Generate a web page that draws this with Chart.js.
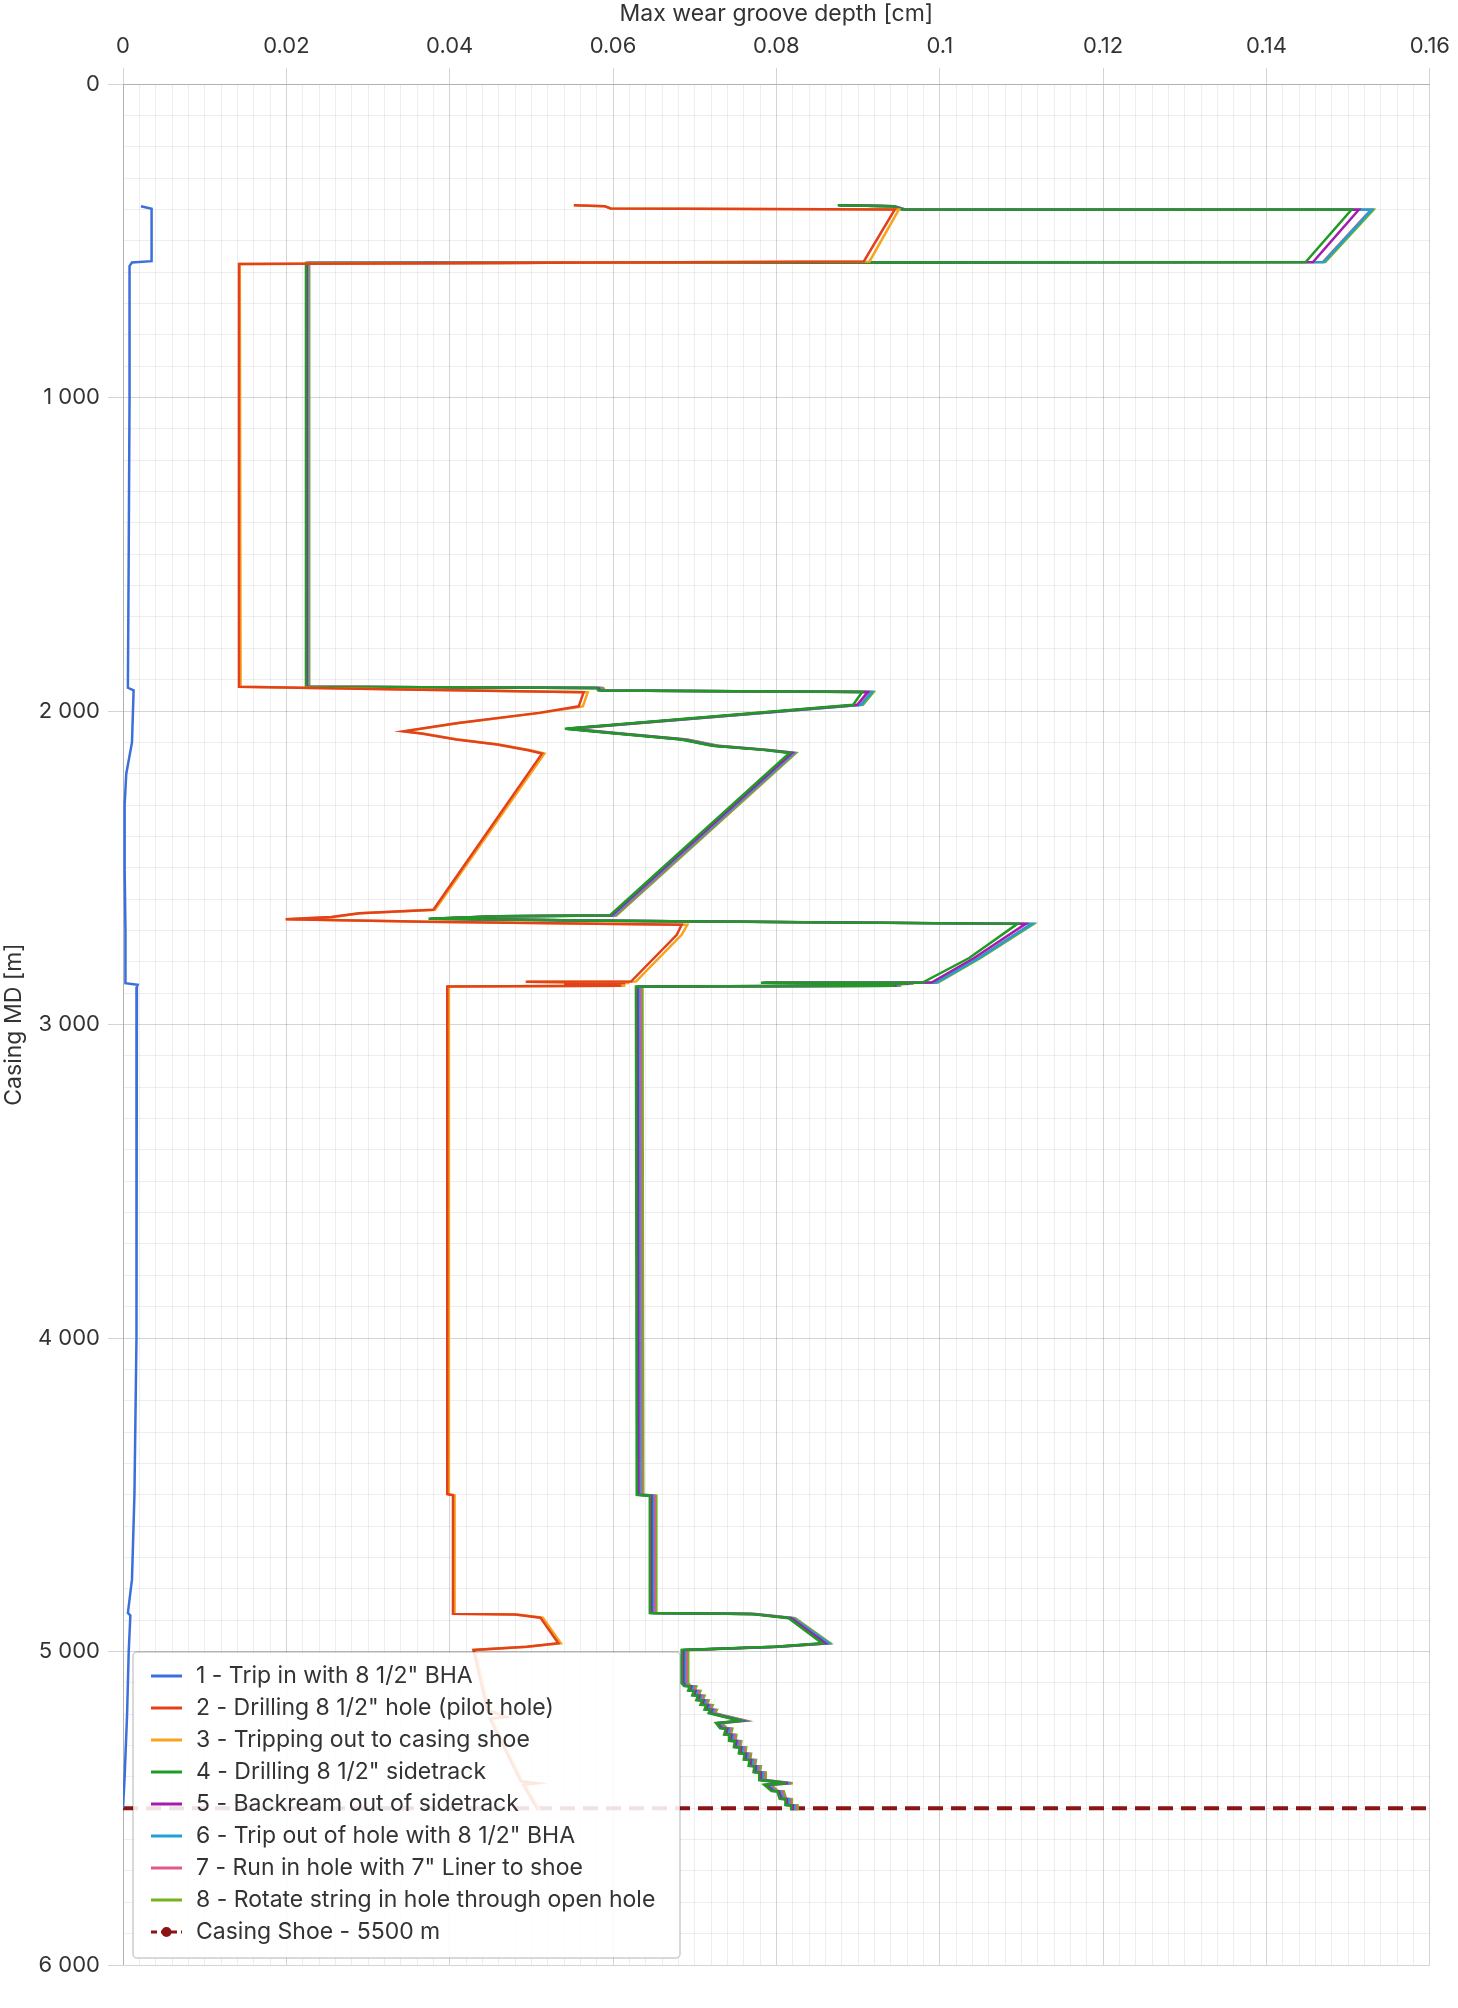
<!DOCTYPE html>
<html>
<head>
<meta charset="utf-8">
<title>Casing wear</title>
<script src="https://cdn.jsdelivr.net/npm/chart.js@4.4.1/dist/chart.umd.min.js"></script>
<style>
  html, body { margin: 0; padding: 0; background: #fff; }
  #wrap { width: 1458px; height: 2008px; position: relative; }
</style>
</head>
<body>
<div id="wrap"><canvas id="wearChart"></canvas></div>
<script>
// depth [m] / max wear groove depth [cm]
const tripInDepth = [390, 398, 565, 569, 581, 1000, 1500, 1926, 1934, 2100, 2200, 2300, 2500, 2700, 2868, 2873, 2880, 3500, 4000, 4500, 4770, 4877, 4885, 5000, 5200, 5400, 5500];
const tripInWear = [0.0022, 0.0035, 0.0035, 0.0011, 0.0008, 0.0008, 0.0007, 0.0006, 0.0013, 0.0011, 0.0004, 0.0002, 0.0002, 0.0003, 0.0003, 0.0018, 0.0017, 0.0017, 0.0016, 0.0014, 0.0011, 0.0006, 0.0009, 0.0007, 0.0005, 0.0002, 0.0000];

// pilot hole runs (series 2 and 3)
const pilotDepth = [387, 390, 397, 400, 566, 574, 1923, 1932, 1940, 1985, 2006, 2038, 2065, 2072, 2091, 2107, 2125, 2136, 2634, 2645, 2657, 2664, 2672, 2682, 2714, 2863, 2864, 2868, 2872, 2876, 2879, 4498, 4502, 4880, 4882, 4892, 4974, 4985, 4995, 5187, 5209, 5214, 5414, 5420, 5425, 5506];
const drillingWear = [0.0552, 0.0590, 0.0597, 0.0945, 0.0907, 0.0142, 0.0142, 0.0364, 0.0564, 0.0558, 0.0509, 0.0410, 0.0343, 0.0365, 0.0408, 0.0458, 0.0496, 0.0513, 0.0380, 0.0289, 0.0255, 0.0199, 0.0371, 0.0684, 0.0678, 0.0622, 0.0493, 0.0615, 0.0540, 0.0610, 0.0397, 0.0397, 0.0404, 0.0404, 0.0480, 0.0511, 0.0533, 0.0494, 0.0429, 0.0446, 0.0469, 0.0449, 0.0487, 0.0506, 0.0490, 0.0508];
const trippingWear = [0.0552, 0.0590, 0.0597, 0.0950, 0.0914, 0.0143, 0.0144, 0.0366, 0.0569, 0.0563, 0.0512, 0.0412, 0.0345, 0.0367, 0.0410, 0.0460, 0.0499, 0.0516, 0.0382, 0.0291, 0.0257, 0.0200, 0.0373, 0.0691, 0.0684, 0.0628, 0.0495, 0.0620, 0.0545, 0.0615, 0.0399, 0.0399, 0.0406, 0.0406, 0.0482, 0.0514, 0.0536, 0.0496, 0.0431, 0.0448, 0.0471, 0.0451, 0.0489, 0.0508, 0.0492, 0.0510];

// sidetrack runs (series 4 to 8)
const sideDepth = [387, 390, 400, 401, 568, 571, 1923, 1927, 1935, 1939,
  1980, 2057, 2070, 2091, 2111, 2124, 2134, 2652, 2655, 2663,
  2669, 2679, 2788, 2866, 2867, 2870, 2873, 2876, 2879, 4500,
  4503, 4877, 4880, 4894, 4974, 4985, 4995,
  5101, 5110, 5111, 5125, 5126, 5140, 5141, 5155, 5156, 5170, 5171, 5185, 5186, 5197,
  5221, 5228, 5245, 5246, 5265, 5266, 5285, 5286, 5305, 5306, 5325, 5326, 5345, 5346,
  5365, 5366, 5385, 5386, 5410, 5420, 5425, 5445, 5446, 5470, 5471, 5490, 5491, 5506];
const sidetrackWear = [0.0875, 0.0942, 0.0953, 0.1504, 0.1448, 0.0224, 0.0224, 0.0580, 0.0582, 0.0905,
  0.0894, 0.0541, 0.0596, 0.0683, 0.0721, 0.0783, 0.0816, 0.0596, 0.0456, 0.0374,
  0.0589, 0.1095, 0.1036, 0.0979, 0.0781, 0.0960, 0.0850, 0.0945, 0.0628, 0.0629,
  0.0645, 0.0645, 0.0767, 0.0815, 0.0856, 0.0797, 0.0684,
  0.0684, 0.0687, 0.0694, 0.0692, 0.0699, 0.0697, 0.0704, 0.0702, 0.0709, 0.0707, 0.0714, 0.0712, 0.0719, 0.0717,
  0.0755, 0.0726, 0.0731, 0.0738, 0.0736, 0.0743, 0.0742, 0.0749, 0.0748, 0.0755, 0.0754, 0.0761, 0.0760, 0.0767,
  0.0766, 0.0773, 0.0772, 0.0779, 0.0779, 0.0812, 0.0785, 0.0794, 0.0801, 0.0804, 0.0811, 0.0811, 0.0818, 0.0818];
const backreamWear = [0.0876, 0.0943, 0.0955, 0.1513, 0.1457, 0.0225, 0.0225, 0.0582, 0.0584, 0.0912,
  0.0899, 0.0543, 0.0598, 0.0685, 0.0723, 0.0785, 0.0819, 0.0598, 0.0458, 0.0376,
  0.0591, 0.1105, 0.1042, 0.0990, 0.0783, 0.0962, 0.0852, 0.0947, 0.0630, 0.0631,
  0.0647, 0.0647, 0.0769, 0.0818, 0.0860, 0.0799, 0.0686,
  0.0686, 0.0689, 0.0696, 0.0694, 0.0701, 0.0699, 0.0706, 0.0704, 0.0711, 0.0709, 0.0716, 0.0714, 0.0721, 0.0719,
  0.0757, 0.0728, 0.0733, 0.0740, 0.0738, 0.0745, 0.0744, 0.0751, 0.0750, 0.0757, 0.0756, 0.0763, 0.0762, 0.0769,
  0.0768, 0.0775, 0.0774, 0.0781, 0.0781, 0.0814, 0.0787, 0.0796, 0.0803, 0.0806, 0.0813, 0.0813, 0.0820, 0.0820];
const tripOutWear = [0.0877, 0.0944, 0.0957, 0.1529, 0.1470, 0.0226, 0.0226, 0.0584, 0.0586, 0.0917,
  0.0904, 0.0545, 0.0600, 0.0687, 0.0725, 0.0787, 0.0821, 0.0600, 0.0460, 0.0378,
  0.0593, 0.1113, 0.1048, 0.0996, 0.0785, 0.0964, 0.0854, 0.0949, 0.0632, 0.0633,
  0.0649, 0.0649, 0.0771, 0.0820, 0.0864, 0.0801, 0.0688,
  0.0688, 0.0691, 0.0698, 0.0696, 0.0703, 0.0701, 0.0708, 0.0706, 0.0713, 0.0711, 0.0718, 0.0716, 0.0723, 0.0721,
  0.0759, 0.0730, 0.0735, 0.0742, 0.0740, 0.0747, 0.0746, 0.0753, 0.0752, 0.0759, 0.0758, 0.0765, 0.0764, 0.0771,
  0.0770, 0.0777, 0.0776, 0.0783, 0.0783, 0.0816, 0.0789, 0.0798, 0.0805, 0.0808, 0.0815, 0.0815, 0.0822, 0.0822];
const linerWear = [0.0877, 0.0944, 0.0957, 0.1528, 0.1469, 0.0227, 0.0227, 0.0586, 0.0588, 0.0916,
  0.0903, 0.0547, 0.0602, 0.0689, 0.0727, 0.0789, 0.0822, 0.0602, 0.0462, 0.0380,
  0.0595, 0.1112, 0.1047, 0.0995, 0.0787, 0.0966, 0.0856, 0.0951, 0.0634, 0.0635,
  0.0651, 0.0651, 0.0773, 0.0821, 0.0864, 0.0803, 0.0690,
  0.0690, 0.0693, 0.0700, 0.0698, 0.0705, 0.0703, 0.0710, 0.0708, 0.0715, 0.0713, 0.0720, 0.0718, 0.0725, 0.0723,
  0.0761, 0.0732, 0.0737, 0.0744, 0.0742, 0.0749, 0.0748, 0.0755, 0.0754, 0.0761, 0.0760, 0.0767, 0.0766, 0.0773,
  0.0772, 0.0779, 0.0778, 0.0785, 0.0785, 0.0818, 0.0791, 0.0800, 0.0807, 0.0810, 0.0817, 0.0817, 0.0824, 0.0824];
const rotateWear = [0.0878, 0.0945, 0.0958, 0.1531, 0.1472, 0.0228, 0.0228, 0.0588, 0.0590, 0.0919,
  0.0906, 0.0549, 0.0604, 0.0691, 0.0729, 0.0791, 0.0824, 0.0604, 0.0464, 0.0382,
  0.0597, 0.1115, 0.1050, 0.0998, 0.0789, 0.0968, 0.0858, 0.0953, 0.0636, 0.0637,
  0.0653, 0.0653, 0.0775, 0.0823, 0.0866, 0.0805, 0.0692,
  0.0692, 0.0695, 0.0702, 0.0700, 0.0707, 0.0705, 0.0712, 0.0710, 0.0717, 0.0715, 0.0722, 0.0720, 0.0727, 0.0725,
  0.0763, 0.0734, 0.0739, 0.0746, 0.0744, 0.0751, 0.0750, 0.0757, 0.0756, 0.0763, 0.0762, 0.0769, 0.0768, 0.0775,
  0.0774, 0.0781, 0.0780, 0.0787, 0.0787, 0.0820, 0.0793, 0.0802, 0.0809, 0.0812, 0.0819, 0.0819, 0.0826, 0.0826];

const shoeDepth = [5500, 5500];
const shoeWear = [0, 0.16];

const seriesLabels = [
  '1 - Trip in with 8 1/2" BHA',
  '2 - Drilling 8 1/2" hole (pilot hole)',
  '3 - Tripping out to casing shoe',
  '4 - Drilling 8 1/2" sidetrack',
  '5 - Backream out of sidetrack',
  '6 - Trip out of hole with 8 1/2" BHA',
  '7 - Run in hole with 7" Liner to shoe',
  '8 - Rotate string in hole through open hole',
  'Casing Shoe - 5500 m'
];
const seriesColors = ['#3a6fdc', '#e2411c', '#f8a31c', '#1f9b24', '#a21cb0', '#1ea2d2', '#e2588c', '#74b21e', '#8b1414'];

const xTickMin = 0, xTickMax = 0.16, xMinorStep = 0.002, xMajorStep = 0.02;
const yTickMin = 0, yTickMax = 6000, yMinorStep = 100, yMajorStep = 1000;

const FONT = 'Inter, "Noto Sans", sans-serif';
const majorGrid = 'rgba(0,0,0,0.17)';
const minorGrid = 'rgba(0,0,0,0.065)';

function pts(depth, wear) {
  return depth.map((d, i) => ({ x: wear[i], y: d }));
}

function isXMajor(v) { return Math.abs(v / xMajorStep - Math.round(v / xMajorStep)) < 1e-6; }
function isYMajor(v) { return Math.abs(v / yMajorStep - Math.round(v / yMajorStep)) < 1e-6; }

const seriesData = [
  pts(tripInDepth, tripInWear),
  pts(pilotDepth, drillingWear),
  pts(pilotDepth, trippingWear),
  pts(sideDepth, sidetrackWear),
  pts(sideDepth, backreamWear),
  pts(sideDepth, tripOutWear),
  pts(sideDepth, linerWear),
  pts(sideDepth, rotateWear),
  pts(shoeDepth, shoeWear)
];

const datasets = seriesData.map((data, i) => {
  const isShoe = i === seriesData.length - 1;
  return {
    label: seriesLabels[i],
    data: data,
    showLine: true,
    borderColor: seriesColors[i],
    backgroundColor: seriesColors[i],
    borderWidth: isShoe ? 4 : 2.5,
    borderDash: isShoe ? [15, 8] : [],
    pointRadius: 0,
    tension: 0,
    fill: false
  };
});

// legend drawn inside the plot, bottom left
const insideLegend = {
  id: 'insideLegend',
  afterDatasetsDraw(chart) {
    const { ctx, chartArea } = chart;
    const w = 547, h = 306;
    const x0 = chartArea.left + 10;
    const y0 = chartArea.bottom - 7 - h;
    ctx.save();
    ctx.fillStyle = 'rgba(255,255,255,0.88)';
    ctx.strokeStyle = 'rgba(0,0,0,0.2)';
    ctx.lineWidth = 1.5;
    ctx.beginPath();
    ctx.roundRect(x0, y0, w, h, 4);
    ctx.fill();
    ctx.stroke();

    ctx.font = '23px ' + FONT;
    ctx.textBaseline = 'middle';
    ctx.textAlign = 'left';
    seriesLabels.forEach((lbl, i) => {
      const y = y0 + 24 + i * 32;
      ctx.strokeStyle = seriesColors[i];
      ctx.lineWidth = 3;
      if (i === seriesLabels.length - 1) {
        ctx.setLineDash([6, 4]);
        ctx.beginPath(); ctx.moveTo(x0 + 18, y); ctx.lineTo(x0 + 49, y); ctx.stroke();
        ctx.setLineDash([]);
        ctx.fillStyle = seriesColors[i];
        ctx.beginPath(); ctx.arc(x0 + 33.5, y, 5, 0, Math.PI * 2); ctx.fill();
      } else {
        ctx.beginPath(); ctx.moveTo(x0 + 18, y); ctx.lineTo(x0 + 49, y); ctx.stroke();
      }
      ctx.fillStyle = '#333';
      ctx.fillText(lbl, x0 + 63, y);
    });
    ctx.restore();
  }
};

const ctx = document.getElementById('wearChart').getContext('2d');
const wearChart = new Chart(ctx, {
  type: 'scatter',
  data: { datasets: datasets },
  options: {
    responsive: true,
    maintainAspectRatio: false,
    animation: false,
    devicePixelRatio: 1,
    layout: { padding: { left: 0, right: 28, top: 0, bottom: 43 } },
    scales: {
      x: {
        type: 'linear',
        position: 'top',
        min: xTickMin,
        max: xTickMax,
        afterFit(scale) { scale.height = 84; },
        ticks: {
          stepSize: xMinorStep,
          autoSkip: false,
          maxRotation: 0,
          minRotation: 0,
          padding: 8,
          color: '#333',
          font: { family: FONT, size: 22 },
          callback: (v) => isXMajor(v) ? String(+v.toFixed(3)) : ''
        },
        grid: {
          color: (c) => (c.tick && isXMajor(c.tick.value)) ? majorGrid : minorGrid,
          tickColor: (c) => (c.tick && isXMajor(c.tick.value)) ? majorGrid : 'rgba(0,0,0,0)',
          tickLength: 16,
          lineWidth: 1
        },
        border: { color: majorGrid },
        title: {
          display: true,
          text: 'Max wear groove depth [cm]',
          color: '#333',
          font: { family: FONT, size: 23 },
          padding: 0
        }
      },
      y: {
        type: 'linear',
        reverse: true,
        min: yTickMin,
        max: yTickMax,
        afterFit(scale) { scale.width = 123; },
        ticks: {
          stepSize: yMinorStep,
          autoSkip: false,
          padding: 8,
          color: '#333',
          font: { family: FONT, size: 22 },
          callback: (v) => {
            if (!isYMajor(v)) return '';
            return v === 0 ? '0' : (v / 1000) + ' 000';
          }
        },
        grid: {
          color: (c) => (c.tick && isYMajor(c.tick.value)) ? majorGrid : minorGrid,
          tickColor: (c) => (c.tick && isYMajor(c.tick.value)) ? majorGrid : 'rgba(0,0,0,0)',
          tickLength: 15,
          lineWidth: 1
        },
        border: { color: majorGrid },
        title: {
          display: true,
          text: 'Casing MD [m]',
          color: '#333',
          font: { family: FONT, size: 23 },
          padding: 0
        }
      }
    },
    plugins: {
      legend: { display: false },
      tooltip: { enabled: false }
    }
  },
  plugins: [insideLegend]
});
</script>
</body>
</html>
